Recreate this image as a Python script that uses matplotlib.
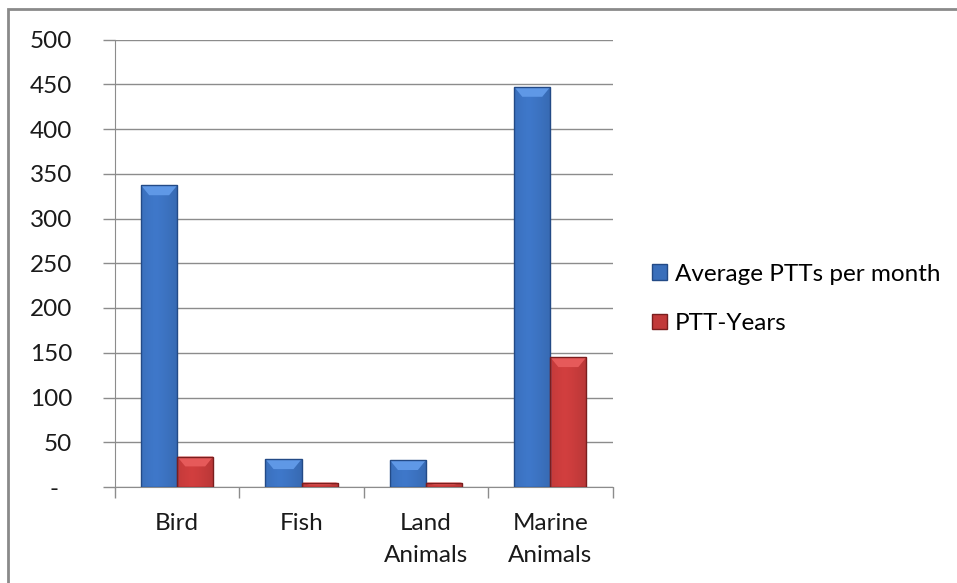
import numpy as np
import matplotlib.pyplot as plt
from matplotlib.colors import to_rgb
from matplotlib.patches import Rectangle, Polygon, Patch

categories = ["Bird", "Fish", "Land\nAnimals", "Marine\nAnimals"]
avg_ptts = [337, 31, 30, 447]
ptt_years = [34, 5, 5, 145]
series_names = ["Average PTTs per month", "PTT-Years"]
y_ticks = [0, 50, 100, 150, 200, 250, 300, 350, 400, 450, 500]
y_labels = ["-  "] + [str(v) for v in y_ticks[1:]]

# (main, light bevel, dark edge)
blue = ("#3a6fbb", "#5f98e6", "#234a86")
red = ("#c23a3a", "#e65a5a", "#7a1e1e")

plt.rcParams['font.family'] = ['Lato', 'DejaVu Sans']
FS = 17.5

fig = plt.figure(figsize=(9.57, 5.83), dpi=100)
ax = fig.add_axes([115 / 957, 1 - 487 / 583, (612.5 - 115) / 957, (487 - 39.5) / 583])

bar_w = 0.29
bevel_x = 0.065  # category units
bevel_y = 11     # data units


def draw_bar(x0, h, cols):
    main, light, dark = cols
    rect = Rectangle((x0, 0), bar_w, h, facecolor=main, edgecolor="none", zorder=3)
    ax.add_patch(rect)
    # horizontal shading, lighter left of centre, darker toward the edges
    t = np.linspace(0, 1, 64)
    f = 1.08 - 0.25 * np.abs(t - 0.4) ** 1.3
    img_rgb = np.clip(np.array(to_rgb(main))[None, None, :] * f[None, :, None], 0, 1)
    img = ax.imshow(img_rgb, extent=(x0, x0 + bar_w, 0, h), aspect="auto", zorder=3.5,
                    interpolation="bilinear")
    img.set_clip_path(rect)
    d = min(bevel_y, h / 2)
    b = min(bevel_x, bar_w / 2)
    top = Polygon([(x0, h), (x0 + bar_w, h), (x0 + bar_w - b, h - d), (x0 + b, h - d)],
                  closed=True, facecolor=light, edgecolor="none", zorder=4)
    ax.add_patch(top)
    ax.add_patch(Rectangle((x0, 0), bar_w, h, facecolor="none", edgecolor=dark,
                           lw=1.0, zorder=5))


x = np.arange(len(categories))
for i in range(len(categories)):
    draw_bar(x[i] - bar_w, avg_ptts[i], blue)
    draw_bar(x[i], ptt_years[i], red)

ax.set_xlim(-0.5, len(categories) - 0.5)
ax.set_ylim(0, 500)
ax.set_yticks(y_ticks)
ax.set_yticklabels(y_labels, fontsize=FS, color="#1a1a1a")
ax.set_xticks(x)
ax.set_xticklabels(categories, fontsize=FS, color="#1a1a1a", linespacing=1.6)
ax.set_xticks(np.arange(len(categories) + 1) - 0.5, minor=True)
ax.tick_params(axis="x", which="major", length=0, pad=19)
ax.tick_params(axis="x", which="minor", length=8, color="#8c8c8c", width=1)
ax.tick_params(axis="y", length=9, color="#8c8c8c", width=1, pad=22)
ax.grid(axis="y", color="#8c8c8c", lw=1)
ax.set_axisbelow(True)
for s in ("top", "right"):
    ax.spines[s].set_visible(False)
for s in ("left", "bottom"):
    ax.spines[s].set_color("#8c8c8c")

handles = [Patch(facecolor=blue[0], edgecolor=blue[2]), Patch(facecolor=red[0], edgecolor=red[2])]
fig.legend(handles, series_names, loc="center left", bbox_to_anchor=(640 / 957, 1 - 299 / 583),
           frameon=False, fontsize=FS, handlelength=0.6, handleheight=0.6,
           handletextpad=0.35, labelspacing=1.17, borderpad=0)

# outer frame
fig.add_artist(Rectangle((8 / 957, -0.1), 1.2, 1.1 - 9 / 583, transform=fig.transFigure,
                         facecolor="none", edgecolor="#8a8a8a", lw=2))

fig.savefig("out.png", dpi=100)
